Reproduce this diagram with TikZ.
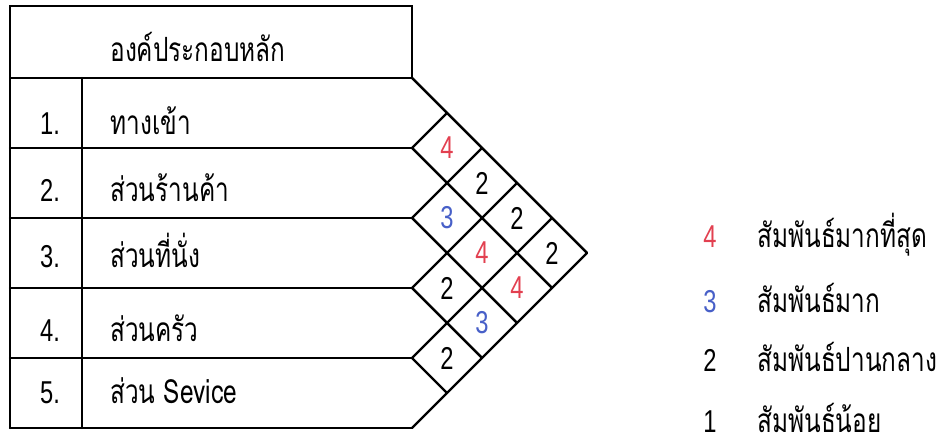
\documentclass[tikz,border=0pt]{standalone}
\usepackage{fontspec}
\setmainfont{Liberation Sans}
\newfontfamily\thaifont[Script=Thai,FakeStretch=0.73]{Loma}
\newfontfamily\numfont[FakeStretch=0.75]{Liberation Sans}
\definecolor{relred}{RGB}{226,64,80}
\definecolor{relblue}{RGB}{72,96,200}

\tikzset{
  grid line/.style={line width=1.4pt, line cap=round},
  thai label/.style={anchor=base west, inner sep=0pt, font=\thaifont\fontsize{19}{21}\selectfont},
  num label/.style={anchor=base, inner sep=0pt, font=\numfont\fontsize{18}{20}\selectfont},
  cell num/.style={inner sep=0pt, font=\numfont\fontsize{18}{20}\selectfont},
}

\begin{document}
\begin{tikzpicture}[x=0.02cm,y=-0.02cm]
  \useasboundingbox (0,0) rectangle (942,448);

  % table
  \draw[grid line] (10,6) rectangle (412,78);
  \node[thai label, anchor=base] (head) at (198,62) {องค์ประกอบหลัก};
  \foreach \k in {0,...,5}
    \coordinate (tip\k) at (412,{78+70*\k});
  \foreach \k in {1,...,5}
    \draw[grid line] (10,{78+70*\k}) -- (tip\k);
  \draw[grid line] (10,78) -- (10,428);
  \draw[grid line] (82,78) -- (82,428);

  \foreach \n/\t/\y in {1/ทางเข้า/135, 2/ส่วนร้านค้า/202, 3/ส่วนที่นั่ง/268, 4/ส่วนครัว/342, 5/ส่วน Sevice/404}{
    \node[num label] (num\n) at (50,\y) {\n.};
    \node[thai label] (item\n) at (110,\y) {\t};
  }

  % relation matrix
  \foreach \k in {0,...,4}
    \draw[grid line] (tip\k) -- ++({35*(5-\k)},{35*(5-\k)});
  \foreach \k in {1,...,5}
    \draw[grid line] (tip\k) -- ++({35*\k},{-35*\k});

  \foreach \i/\j/\v/\c in {1/2/4/relred, 2/3/3/relblue, 3/4/2/black, 4/5/2/black,
      1/3/2/black, 2/4/4/relred, 3/5/3/relblue, 1/4/2/black, 2/5/4/relred, 1/5/2/black}
    \node[cell num, text=\c] (cell\i\j) at ({412+35*(\j-\i)},{78+35*(\i+\j-1)}) {\v};

  % legend
  \node[num label, text=relred] (key4) at (710,248) {4};
  \node[thai label] (desc4) at (757,248) {สัมพันธ์มากที่สุด};
  \node[num label, text=relblue] (key3) at (710,313) {3};
  \node[thai label] (desc3) at (757,313) {สัมพันธ์มาก};
  \node[num label] (key2) at (710,372) {2};
  \node[thai label] (desc2) at (757,372) {สัมพันธ์ปานกลาง};
  \node[num label] (key1) at (710,433) {1};
  \node[thai label] (desc1) at (757,433) {สัมพันธ์น้อย};
\end{tikzpicture}
\end{document}
